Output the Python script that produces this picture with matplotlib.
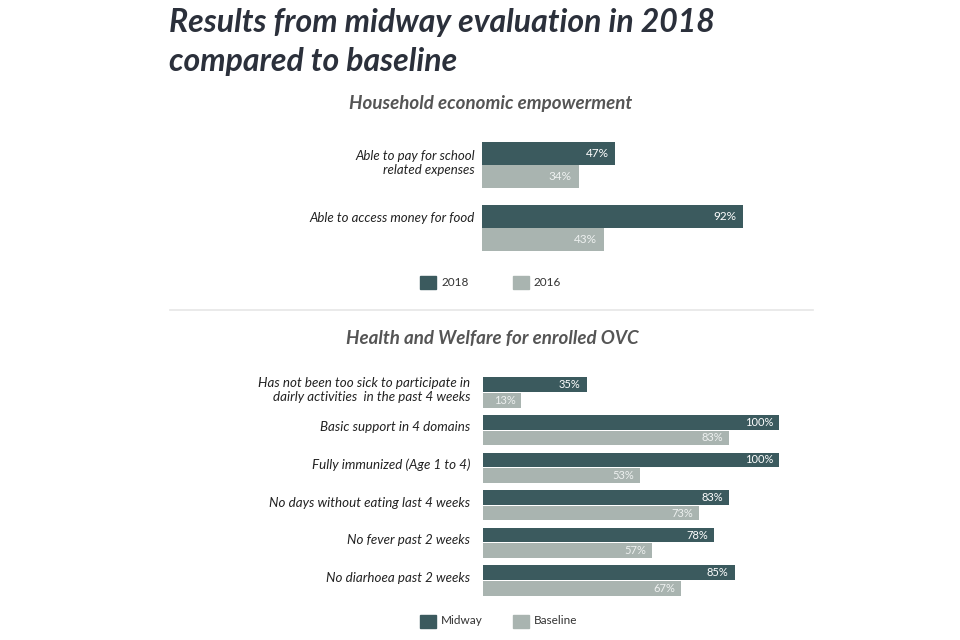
import matplotlib
matplotlib.use("Agg")
import matplotlib.pyplot as plt
from matplotlib.patches import Rectangle
from matplotlib.lines import Line2D

plt.rcParams['font.family'] = ['Lato', 'DejaVu Sans']

# ---- data ----
top_categories = ["Able to pay for school\nrelated expenses", "Able to access money for food"]
top_2018 = [47, 92]
top_2016 = [34, 43]
top_series = ["2018", "2016"]

bot_categories = ["Has not been too sick to participate in\ndairly activities  in the past 4 weeks",
                  "Basic support in 4 domains",
                  "Fully immunized (Age 1 to 4)",
                  "No days without eating last 4 weeks",
                  "No fever past 2 weeks",
                  "No diarhoea past 2 weeks"]
bot_midway = [35, 100, 100, 83, 78, 85]
bot_baseline = [13, 83, 53, 73, 57, 67]
bot_series = ["Midway", "Baseline"]

title = "Results from midway evaluation in 2018\ncompared to baseline"
sub1 = "Household economic empowerment"
sub2 = "Health and Welfare for enrolled OVC"

DARK = "#3b5a5e"
LIGHT = "#a9b4b0"
W, H = 960, 640

fig = plt.figure(figsize=(9.6, 6.4), dpi=100)
fig.patch.set_facecolor("white")

def fx(px):
    return px / W

def fy(py):
    return 1 - py / H

def make_axes(left_px, top_px, bottom_px, width_px):
    return fig.add_axes([fx(left_px), fy(bottom_px), width_px / W, (bottom_px - top_px) / H])

# ---- top chart ----
ax1 = make_axes(482, 142, 251, 300)
px_per_pct1 = 2.84
ax1.set_xlim(0, 300 / px_per_pct1)
hb1 = 23 / 63
ax1.set_ylim(1 + hb1, -hb1)
n1 = len(top_categories)
ys = list(range(n1))
ax1.barh([y - hb1 / 2 for y in ys], top_2018, height=hb1 * 0.97, color=DARK)
ax1.barh([y + hb1 / 2 for y in ys], top_2016, height=hb1 * 0.97, color=LIGHT)
off1 = 7 / px_per_pct1
for y, v in zip(ys, top_2018):
    ax1.text(v - off1, y - hb1 / 2, f"{v}%", color="white", fontsize=8.5,
             ha="right", va="center")
for y, v in zip(ys, top_2016):
    ax1.text(v - off1, y + hb1 / 2, f"{v}%", color="#eef1f0", fontsize=8.5,
             ha="right", va="center")
label_y_top = [0 - 0.03, 1 - 0.16]
for y, lab in zip(label_y_top, top_categories):
    ax1.text(-7 / px_per_pct1, y, lab, ha="right", va="center", fontsize=9.5,
             style="italic", color="#222222", linespacing=1.25)
ax1.axis("off")

# ---- bottom chart ----
ax2 = make_axes(483, 377, 596, 300)
px_per_pct2 = 2.96
ax2.set_xlim(0, 300 / px_per_pct2)
hb2 = 15.5 / 37.5
n2 = len(bot_categories)
ax2.set_ylim(n2 - 1 + hb2, -hb2)
ys2 = list(range(n2))
ax2.barh([y - hb2 / 2 for y in ys2], bot_midway, height=hb2 * 0.95, color=DARK)
ax2.barh([y + hb2 / 2 for y in ys2], bot_baseline, height=hb2 * 0.95, color=LIGHT)
off2 = 6 / px_per_pct2
for y, v in zip(ys2, bot_midway):
    ax2.text(v - off2, y - hb2 / 2, f"{v}%", color="white", fontsize=8,
             ha="right", va="center")
for y, v in zip(ys2, bot_baseline):
    ax2.text(v - off2, y + hb2 / 2, f"{v}%", color="#eef1f0", fontsize=8,
             ha="right", va="center")
for y, lab in zip(ys2, bot_categories):
    ax2.text(-13 / px_per_pct2, y - 0.07, lab, ha="right", va="center", fontsize=9.6,
             style="italic", color="#222222", linespacing=1.2)
ax2.axis("off")

# ---- titles ----
fig.text(fx(169), fy(8), title, ha="left", va="top", fontsize=23,
         fontweight="bold", style="italic", color="#2b303b", linespacing=1.42)
fig.text(fx(491), fy(104), sub1, ha="center", va="center", fontsize=13.5,
         fontweight="bold", style="italic", color="#555555")
fig.text(fx(492), fy(338), sub2, ha="center", va="center", fontsize=13.5,
         fontweight="bold", style="italic", color="#555555")

# separator
fig.add_artist(Line2D([fx(170), fx(813)], [fy(310), fy(310)], color="#e6e6e6", lw=1.2))

# ---- legends ----
def legend(ypx, names):
    xs = [420, 513]
    for x, name, c in zip(xs, names, [DARK, LIGHT]):
        fig.add_artist(Rectangle((fx(x), fy(ypx + 6.5)), 16 / W, 13 / H, color=c,
                                 transform=fig.transFigure))
        fig.text(fx(x + 21), fy(ypx), name, ha="left", va="center", fontsize=8.5,
                 color="#333333")

legend(282, top_series)
legend(621, bot_series)

fig.savefig("out.png", dpi=100, facecolor="white")
